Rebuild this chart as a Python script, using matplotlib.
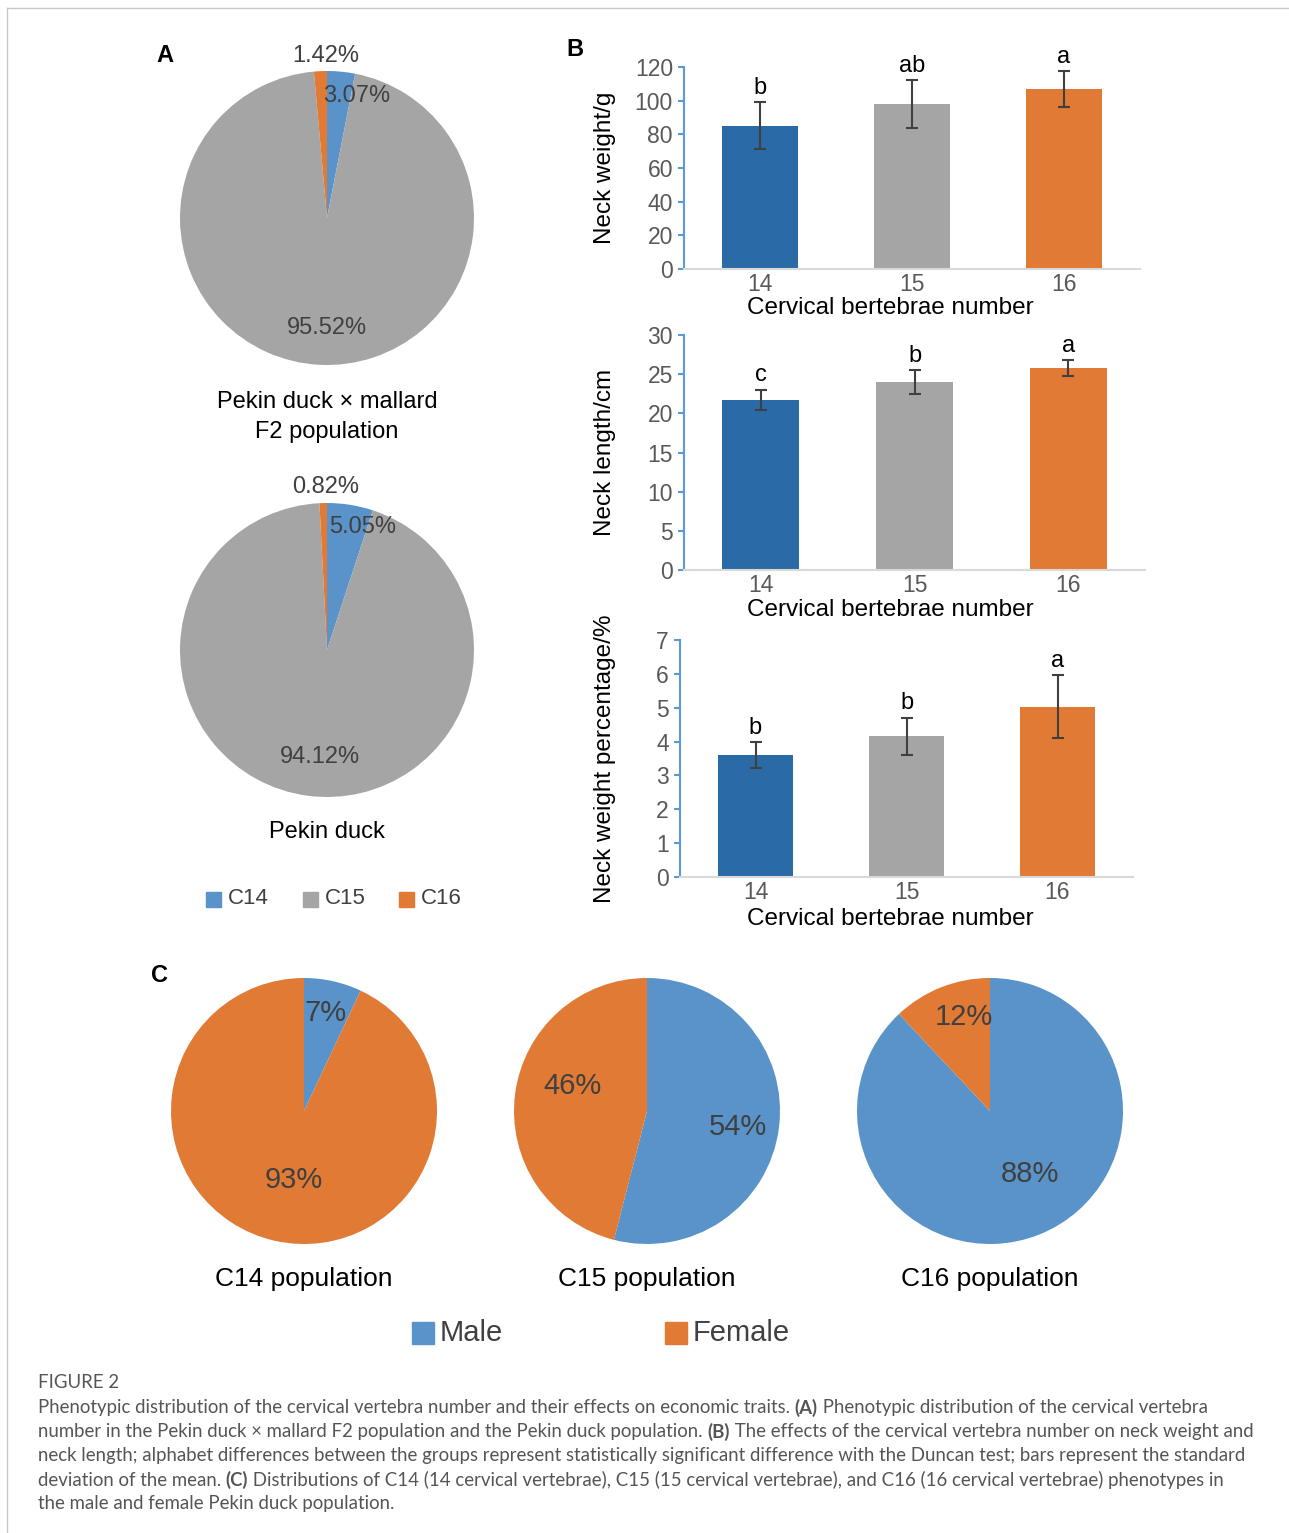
import matplotlib.pyplot as plt
from matplotlib.lines import Line2D
from matplotlib.patches import Rectangle

W, H = 1289, 1533
plt.rcParams['font.family'] = ['Liberation Sans', 'DejaVu Sans']

# ---- data ----
A_GROUPS = ["C14", "C15", "C16"]
A_F2_PCT = [3.07, 95.52, 1.42]
A_PEKIN_PCT = [5.05, 94.12, 0.82]
A_TITLES = ["Pekin duck × mallard\nF2 population", "Pekin duck"]

B_CATS = ["14", "15", "16"]
B_WEIGHT = [85, 98, 107]
B_WEIGHT_SD = [14, 14, 10.5]
B_WEIGHT_LET = ["b", "ab", "a"]
B_LENGTH = [21.7, 24.0, 25.8]
B_LENGTH_SD = [1.3, 1.5, 1.0]
B_LENGTH_LET = ["c", "b", "a"]
B_PCT = [3.6, 4.15, 5.03]
B_PCT_SD = [0.38, 0.56, 0.93]
B_PCT_LET = ["b", "b", "a"]

C_SEX = ["Male", "Female"]
C_TITLES = ["C14 population", "C15 population", "C16 population"]
C_MALE = [7, 54, 88]
C_FEMALE = [93, 46, 12]

BLUE_PIE = "#5a93c9"
GRAY = "#a5a5a5"
ORANGE = "#e07a34"
BLUE_BAR = "#2a6aa6"
TXT = "#404040"

fig = plt.figure(figsize=(W / 100, H / 100), dpi=100)


def px_axes(left, top, right, bottom):
    return fig.add_axes([left / W, 1 - bottom / H, (right - left) / W, (bottom - top) / H])


def pie_axes(cx, cy, r):
    return px_axes(cx - r, cy - r, cx + r, cy + r)


def finish_pie(ax):
    ax.set_xlim(-1, 1)
    ax.set_ylim(-1, 1)
    ax.set_aspect("equal")
    ax.axis("off")


# ---- panel A ----
a_centers = [(327, 218), (327, 650)]
a_title_y = [417, 832]
a_label_pos = [[(0.2, 0.83), (0.0, -0.75), (-0.01, 1.10)],
               [(0.24, 0.84), (-0.05, -0.73), (-0.01, 1.11)]]
for (cx, cy), vals, pos, title, ty in zip(a_centers, [A_F2_PCT, A_PEKIN_PCT], a_label_pos,
                                           A_TITLES, a_title_y):
    ax = pie_axes(cx, cy, 147)
    ax.pie(vals, colors=[BLUE_PIE, GRAY, ORANGE], startangle=90, counterclock=False,
           radius=1, wedgeprops=dict(linewidth=0))
    finish_pie(ax)
    for v, (x, y) in zip(vals, pos):
        ax.text(x, y, f"{v:.2f}%", ha="center", va="center", fontsize=17, color=TXT, clip_on=False)
    fig.text(cx / W, 1 - ty / H, title, ha="center", va="center", fontsize=17,
             linespacing=1.45, color="black")

# legend A
a_leg_x = [206, 303, 399]
for x, name, col in zip(a_leg_x, A_GROUPS, [BLUE_PIE, GRAY, ORANGE]):
    fig.patches.append(Rectangle((x / W, 1 - 907 / H), 15 / W, 15 / H, color=col,
                                 transform=fig.transFigure))
    fig.text((x + 22) / W, 1 - 899 / H, name, ha="left", va="center", fontsize=16, color=TXT)

# ---- panel B ----
bar_colors = [BLUE_BAR, GRAY, ORANGE]
b_specs = [
    ((684, 67, 1140, 269), B_WEIGHT, B_WEIGHT_SD, B_WEIGHT_LET, 120, 20, "Neck weight/g", 28),
    ((684, 335, 1145, 570), B_LENGTH, B_LENGTH_SD, B_LENGTH_LET, 30, 5, "Neck length/cm", 29),
    ((680, 640, 1133, 877), B_PCT, B_PCT_SD, B_PCT_LET, 7, 1, "Neck weight percentage/%", 31),
]
for box, vals, sds, lets, ymax, step, ylab, xl_off in b_specs:
    ax = px_axes(*box)
    xs = range(len(B_CATS))
    ax.bar(xs, vals, width=0.5, color=bar_colors, zorder=2)
    ax.errorbar(xs, vals, yerr=sds, fmt="none", ecolor="#404040", elinewidth=1.5,
                capsize=4.5, capthick=1.5, zorder=3)
    for x, v, s, l in zip(xs, vals, sds, lets):
        ax.text(x, v + s + ymax * 0.015, l, ha="center", va="bottom", fontsize=17, color="black")
    ax.set_xlim(-0.5, 2.5)
    ax.set_ylim(0, ymax)
    ax.set_yticks([i * step for i in range(int(ymax / step) + 1)])
    ax.set_xticks(list(xs))
    ax.set_xticklabels(B_CATS)
    for side in ["top", "right"]:
        ax.spines[side].set_visible(False)
    ax.spines["left"].set_color("#5b9bd5")
    ax.spines["left"].set_linewidth(1.5)
    ax.spines["bottom"].set_color("#d9d9d9")
    ax.spines["bottom"].set_linewidth(1.5)
    ax.tick_params(axis="y", colors="#5b9bd5", labelcolor="#595959", labelsize=16.5,
                   length=4, width=1.5, pad=4)
    ax.tick_params(axis="x", length=0, labelcolor="#595959", labelsize=16.5, pad=3)
    ax.set_xlabel("Cervical bertebrae number", fontsize=17.5, color="black")
    ax.set_ylabel(ylab, fontsize=17.5, color="black")
    bw = box[2] - box[0]
    bh = box[3] - box[1]
    ax.xaxis.set_label_coords((890 - box[0]) / bw, -xl_off / bh)
    ax.yaxis.set_label_coords((616 - box[0]) / bw, 0.5)

# ---- panel C ----
c_centers = [304, 647, 990]
c_label_pos = [[(0.16, 0.74), (-0.08, -0.52)],
               [(0.68, -0.12), (-0.56, 0.19)],
               [(0.3, -0.47), (-0.2, 0.71)]]
for cx, m, f, pos, title in zip(c_centers, C_MALE, C_FEMALE, c_label_pos, C_TITLES):
    ax = pie_axes(cx, 1111, 133)
    ax.pie([m, f], colors=[BLUE_PIE, ORANGE], startangle=90, counterclock=False,
           wedgeprops=dict(linewidth=0))
    finish_pie(ax)
    for v, (x, y) in zip([m, f], pos):
        ax.text(x, y, f"{v}%", ha="center", va="center", fontsize=21, color=TXT)
    fig.text(cx / W, 1 - 1279 / H, title, ha="center", va="center", fontsize=19, color="black")

c_leg_x = [412, 665]
for x, name, col in zip(c_leg_x, C_SEX, [BLUE_PIE, ORANGE]):
    fig.patches.append(Rectangle((x / W, 1 - 1344 / H), 22 / W, 22 / H, color=col,
                                 transform=fig.transFigure))
    fig.text((x + 28) / W, 1 - 1333 / H, name, ha="left", va="center", fontsize=21, color=TXT)

# panel letters
for lab, x, y in [("A", 165, 55), ("B", 575, 50), ("C", 160, 975)]:
    fig.text(x / W, 1 - y / H, lab, ha="center", va="center", fontsize=17, fontweight="bold")

# frame lines
fig.add_artist(Line2D([7 / W, 1], [1 - 8 / H, 1 - 8 / H], color="#c8c8c8", lw=1))
fig.add_artist(Line2D([7 / W, 7 / W], [0, 1 - 8 / H], color="#c8c8c8", lw=1))

# caption
cap_color = "#555555"
cap_fs = 13.4
fig.text(38 / W, 1 - 1383 / H, "FIGURE 2", ha="left", va="center", fontsize=cap_fs,
         color=cap_color, family=["Lato", "DejaVu Sans"])
CAPTION = [
    [("Phenotypic distribution of the cervical vertebra number and their effects on economic traits. ", "normal"),
     ("(A)", "bold"), (" Phenotypic distribution of the cervical vertebra", "normal")],
    [("number in the Pekin duck \u00d7 mallard F2 population and the Pekin duck population. ", "normal"),
     ("(B)", "bold"), (" The effects of the cervical vertebra number on neck weight and", "normal")],
    [("neck length; alphabet differences between the groups represent statistically significant difference with the Duncan test; bars represent the standard", "normal")],
    [("deviation of the mean. ", "normal"), ("(C)", "bold"),
     (" Distributions of C14 (14 cervical vertebrae), C15 (15 cervical vertebrae), and C16 (16 cervical vertebrae) phenotypes in", "normal")],
    [("the male and female Pekin duck population.", "normal")],
]
renderer = fig.canvas.get_renderer()
for i, parts in enumerate(CAPTION):
    y = 1 - (1408 + i * 24) / H
    x = 38 / W
    for txt, wt in parts:
        t = fig.text(x, y, txt, ha="left", va="center", fontsize=cap_fs, color=cap_color,
                     fontweight=wt, family=["Lato", "DejaVu Sans"])
        bb = t.get_window_extent(renderer=renderer)
        x += bb.width / W

fig.savefig("out.png", dpi=100)
